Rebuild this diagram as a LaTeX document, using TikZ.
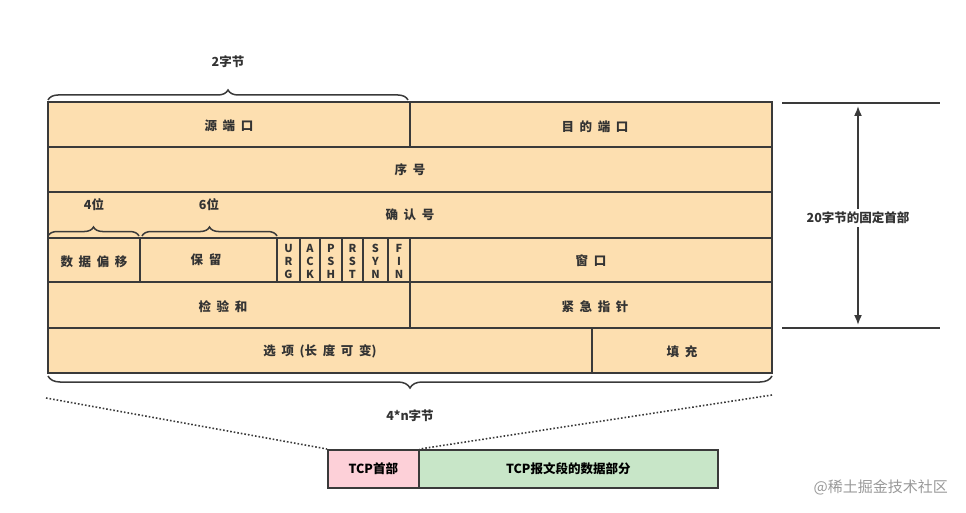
\documentclass[tikz,border=0pt]{standalone}
\usepackage{fontspec}
\setmainfont{Noto Sans CJK SC}
\usetikzlibrary{decorations.pathreplacing,arrows.meta}
\definecolor{peach}{HTML}{FDDFB0}
\definecolor{pinkc}{HTML}{FDD0D8}
\definecolor{greenc}{HTML}{C8E6C8}
\definecolor{edge}{HTML}{3A3A3A}
\newcommand{\gp}{\hspace{0.45em}}
\begin{document}
\begin{tikzpicture}[x=1pt,y=-1pt,font=\fontsize{12.5}{14}\selectfont\bfseries,
  cell/.style={draw=edge,line width=1.6pt,fill=peach},
  lbl/.style={text=black!80,inner sep=0pt},
  br/.style={decorate,decoration={brace,amplitude=10pt},draw=edge,line width=1.5pt}]
\useasboundingbox (0,0) rectangle (966,513);
% rows
\draw[cell] (48,102) rectangle (410,147); \draw[cell] (410,102) rectangle (772,147);
\draw[cell] (48,147) rectangle (772,192);
\draw[cell] (48,192) rectangle (772,238);
\draw[cell] (48,238) rectangle (140,282); \draw[cell] (140,238) rectangle (277,282);
\foreach \a/\b in {277/300,300/320,320/342,342/363,363/388,388/410} \draw[cell] (\a,238) rectangle (\b,282);
\draw[cell] (410,238) rectangle (772,282);
\draw[cell] (48,282) rectangle (410,328); \draw[cell] (410,282) rectangle (772,328);
\draw[cell] (48,328) rectangle (592,373); \draw[cell] (592,328) rectangle (772,373);
% labels
\node[lbl] (n1) at (229,126) {源\gp 端\gp 口};
\node[lbl] (n2) at (595,127) {目\gp 的\gp 端\gp 口};
\node[lbl] (n3) at (410,170) {序\gp 号};
\node[lbl] (n4) at (410,215) {确\gp 认\gp 号};
\node[lbl] (n5) at (94,262) {数\gp 据\gp 偏\gp 移};
\node[lbl] (n6) at (206,260) {保\gp 留};
\foreach \x/\t [count=\i] in {288.5/U\\R\\G,310/A\\C\\K,331/P\\S\\H,352.5/R\\S\\T,375.5/S\\Y\\N,399/F\\I\\N}
  \node[lbl,align=center,font=\fontsize{11}{13}\selectfont\bfseries] (f\i) at (\x,261) {\t};
\node[lbl] (n7) at (591,261) {窗\gp 口};
\node[lbl] (n8) at (223,307) {检\gp 验\gp 和};
\node[lbl] (n9) at (595,307) {紧\gp 急\gp 指\gp 针};
\node[lbl] (n10) at (320,351) {选\gp 项\gp (长\gp 度\gp 可\gp 变)};
\node[lbl] (n11) at (682,352) {填\gp 充};
% braces
\coordinate (b1a) at (48,100); \coordinate (b1b) at (408,100);
\draw[br] (b1a) -- (b1b);
\node[lbl] (t1) at (228,62) {2字节};
\coordinate (b2a) at (48,236); \coordinate (b2b) at (139,236);
\draw[br,decoration={amplitude=9pt}] (b2a) -- (b2b);
\node[lbl] (t2) at (94,205) {4位};
\coordinate (b3a) at (142,236); \coordinate (b3b) at (277,236);
\draw[br,decoration={amplitude=9pt}] (b3a) -- (b3b);
\node[lbl] (t3) at (209,205) {6位};
\coordinate (b4a) at (48,376); \coordinate (b4b) at (772,376);
\draw[br,decoration={mirror,amplitude=12pt}] (b4a) -- (b4b);
\node[lbl] (t4) at (410,416) {4*n字节};
% right
\coordinate (r1a) at (782,103); \coordinate (r1b) at (940,103);
\coordinate (r2a) at (782,328); \coordinate (r2b) at (940,328);
\draw[edge,line width=1.6pt] (r1a) -- (r1b); \draw[edge,line width=1.6pt] (r2a) -- (r2b);
\node[lbl,fill=white,inner sep=3pt] (t5) at (858,218) {20字节的固定首部};
\coordinate (ar1) at (858,106); \coordinate (ar2) at (858,325);
\draw[edge,line width=1.6pt,-{Latex[length=10pt,width=8pt]}] (t5) -- (ar1);
\draw[edge,line width=1.6pt,-{Latex[length=10pt,width=8pt]}] (t5) -- (ar2);
% bottom
\node[draw=edge,line width=1.6pt,fill=pinkc,minimum width=91pt,minimum height=38pt,inner sep=0pt,anchor=north west] (h) at (327,449) {TCP首部};
\node[draw=edge,line width=1.6pt,fill=greenc,minimum width=299pt,minimum height=38pt,inner sep=0pt,anchor=north west] (d) at (418,449) {TCP报文段的数据部分};
\coordinate (dl) at (46,398); \coordinate (dr) at (772,395);
\draw[edge,line width=1.6pt,dotted] (dl) -- (h.north west);
\draw[edge,line width=1.6pt,dotted] (dr) -- (h.north east);
\node[lbl,text=black!40,font=\fontsize{15}{17}\selectfont,anchor=east] (wm) at (948,487) {@稀土掘金技术社区};
\end{tikzpicture}
\end{document}
